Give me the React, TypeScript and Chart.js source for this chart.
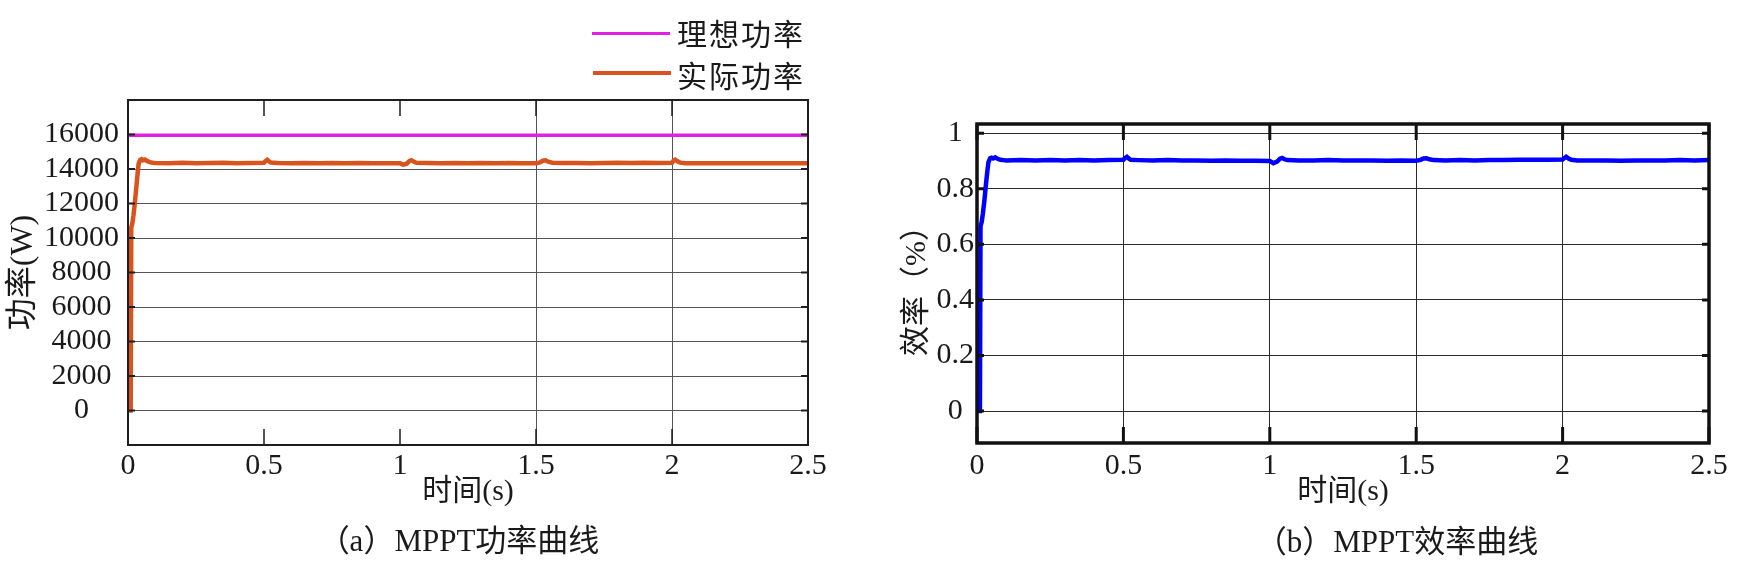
import React, { useEffect, useRef } from "react";
import { Chart, registerables } from "chart.js";

Chart.register(...registerables);

// ---------- data ----------
const TIME_S = [
  0, 0.01, 0.012, 0.016, 0.02, 0.025, 0.031, 0.035, 0.039, 0.045,
  0.05, 0.055, 0.062, 0.07, 0.08, 0.09, 0.1, 0.15, 0.2, 0.25,
  0.3, 0.35, 0.4, 0.45, 0.5, 0.505, 0.512, 0.518, 0.525, 0.55,
  0.6, 0.65, 0.7, 0.75, 0.8, 0.85, 0.9, 0.95, 1.0, 1.012,
  1.025, 1.035, 1.042, 1.05, 1.06, 1.1, 1.15, 1.2, 1.25, 1.3,
  1.35, 1.4, 1.45, 1.5, 1.515, 1.525, 1.535, 1.545, 1.56, 1.6,
  1.65, 1.7, 1.75, 1.8, 1.85, 1.9, 1.95, 2.0, 2.005, 2.012,
  2.02, 2.03, 2.05, 2.1, 2.15, 2.2, 2.25, 2.3, 2.35, 2.4,
  2.45, 2.5,
];

const ACTUAL_POWER_W = [
  0, 0, 10600, 10850, 11300, 12000, 13000, 13700, 14300, 14530,
  14570, 14510, 14550, 14470, 14400, 14360, 14350, 14340, 14360, 14340,
  14350, 14360, 14340, 14350, 14360, 14450, 14530, 14450, 14370, 14350,
  14340, 14350, 14340, 14350, 14340, 14350, 14330, 14340, 14330, 14250,
  14310, 14470, 14510, 14430, 14360, 14350, 14340, 14350, 14340, 14350,
  14340, 14350, 14340, 14340, 14380, 14480, 14500, 14420, 14360, 14350,
  14350, 14340, 14350, 14360, 14350, 14360, 14350, 14360, 14470, 14540,
  14450, 14370, 14340, 14340, 14330, 14340, 14330, 14340, 14330, 14340,
  14330, 14340,
];

const EFFICIENCY = [
  0, 0, 0.665, 0.68, 0.71, 0.755, 0.82, 0.86, 0.895, 0.91,
  0.912, 0.909, 0.913, 0.908, 0.904, 0.903, 0.902, 0.903, 0.902, 0.903,
  0.902, 0.903, 0.902, 0.903, 0.904, 0.91, 0.915, 0.909, 0.904, 0.903,
  0.902, 0.903, 0.902, 0.902, 0.901, 0.902, 0.901, 0.901, 0.9, 0.892,
  0.898, 0.908, 0.911, 0.906, 0.903, 0.902, 0.902, 0.903, 0.902, 0.902,
  0.902, 0.901, 0.902, 0.901, 0.904, 0.909, 0.91, 0.906, 0.903, 0.902,
  0.903, 0.902, 0.903, 0.903, 0.904, 0.904, 0.904, 0.905, 0.91, 0.915,
  0.909, 0.904, 0.902, 0.902, 0.902, 0.901, 0.902, 0.902, 0.902, 0.903,
  0.902, 0.903,
];

const IDEAL_TIME_S = [0, 2.5];
const IDEAL_POWER_W = [15950, 15950];

const TIME_TICKS = [0, 0.5, 1, 1.5, 2, 2.5];
const POWER_TICKS = [-2000, 0, 2000, 4000, 6000, 8000, 10000, 12000, 14000, 16000, 18000];
const POWER_LABELED = [0, 2000, 4000, 6000, 8000, 10000, 12000, 14000, 16000];
const EFFICIENCY_TICKS = [0, 0.2, 0.4, 0.6, 0.8, 1];

const LEGEND_LABELS = ["理想功率", "实际功率"];
const X_TITLE = "时间(s)";
const POWER_Y_TITLE = "功率(W)";
const EFF_Y_TITLE = "效率（%）";
const CAPTION_A = "（a）MPPT功率曲线";
const CAPTION_B = "（b）MPPT效率曲线";

// ---------- styles ----------
const FONT_FAMILY = "'Liberation Serif', 'Times New Roman', 'Noto Sans CJK SC', serif";
const TEXT_COLOR = "#1a1a1a";
const IDEAL_COLOR = "#E31FE3";
const ACTUAL_COLOR = "#D9541C";
const EFF_COLOR = "#0000FF";

const framePlugin = {
  id: "frame",
  afterDatasetsDraw(chart: any, _args: any, opts: any) {
    const { ctx, chartArea: a, scales } = chart;
    const xs = scales.x;
    const ys = scales.y;
    ctx.save();
    ctx.strokeStyle = opts.color;
    ctx.lineCap = "butt";
    ctx.lineWidth = opts.xTickWidth;
    ctx.beginPath();
    for (const t of xs.ticks) {
      const px = xs.getPixelForValue(t.value);
      ctx.moveTo(px, a.top);
      ctx.lineTo(px, a.top + opts.xTickLen);
      ctx.moveTo(px, a.bottom);
      ctx.lineTo(px, a.bottom - opts.xTickLen);
    }
    ctx.stroke();
    ctx.lineWidth = opts.yTickWidth;
    ctx.beginPath();
    for (const t of ys.ticks) {
      const py = ys.getPixelForValue(t.value);
      ctx.moveTo(a.left, py);
      ctx.lineTo(a.left + opts.yTickLen, py);
      ctx.moveTo(a.right, py);
      ctx.lineTo(a.right - opts.yTickLen, py);
    }
    ctx.stroke();
    ctx.lineWidth = opts.width;
    ctx.strokeRect(a.left, a.top, a.right - a.left, a.bottom - a.top);
    ctx.restore();
  },
};

const tickFont = { family: FONT_FAMILY, size: 30, lineHeight: 1.2 };
const titleFont = { family: FONT_FAMILY, size: 30, lineHeight: 1.2 };
const yTitleFontLeft = { family: FONT_FAMILY, size: 32, lineHeight: 1.2 };

function powerConfig(): any {
  return {
    type: "line",
    data: {
      datasets: [
        {
          label: LEGEND_LABELS[0],
          data: IDEAL_TIME_S.map((t, i) => ({ x: t, y: IDEAL_POWER_W[i] })),
          borderColor: IDEAL_COLOR,
          borderWidth: 3.5,
          pointRadius: 0,
          tension: 0,
        },
        {
          label: LEGEND_LABELS[1],
          data: TIME_S.map((t, i) => ({ x: t, y: ACTUAL_POWER_W[i] })),
          borderColor: ACTUAL_COLOR,
          borderWidth: 4.5,
          pointRadius: 0,
          tension: 0,
        },
      ],
    },
    options: {
      responsive: false,
      animation: false,
      devicePixelRatio: 1,
      layout: { padding: { top: 100, right: 52, bottom: 67, left: 0 } },
      plugins: {
        legend: { display: false },
        tooltip: { enabled: false },
        frame: { color: "#1e1e1e", width: 2, xTickLen: 16, xTickWidth: 1.5, yTickLen: 7, yTickWidth: 2 },
      },
      scales: {
        x: {
          type: "linear",
          min: 0,
          max: 2.5,
          afterBuildTicks: (s: any) => {
            s.ticks = TIME_TICKS.map((v) => ({ value: v }));
          },
          afterFit: (s: any) => {
            s.height = 65;
          },
          ticks: { font: tickFont, color: TEXT_COLOR, padding: 3, maxRotation: 0, autoSkip: false, callback: (v: any) => String(v) },
          grid: {
            drawTicks: false,
            lineWidth: 1,
            color: (c: any) => (c.tick && (c.tick.value === 1.5 || c.tick.value === 2) ? "#555555" : "rgba(0,0,0,0)"),
          },
          border: { display: false },
          title: { display: true, text: X_TITLE, font: titleFont, color: TEXT_COLOR, padding: 0 },
        },
        y: {
          type: "linear",
          min: -2000,
          max: 18000,
          afterBuildTicks: (s: any) => {
            s.ticks = POWER_TICKS.map((v) => ({ value: v }));
          },
          afterFit: (s: any) => {
            s.width = 128;
          },
          ticks: {
            font: tickFont,
            color: TEXT_COLOR,
            padding: 9,
            crossAlign: "center",
            autoSkip: false,
            callback: (v: any) => (POWER_LABELED.includes(v) ? String(v) : ""),
          },
          grid: { drawTicks: false, lineWidth: 1, color: "#555555" },
          border: { display: false },
          title: { display: true, text: POWER_Y_TITLE, font: yTitleFontLeft, color: TEXT_COLOR, padding: { top: 4, bottom: 0 } },
        },
      },
    },
    plugins: [framePlugin],
  };
}

function efficiencyConfig(): any {
  return {
    type: "line",
    data: {
      datasets: [
        {
          label: "效率",
          data: TIME_S.map((t, i) => ({ x: t, y: EFFICIENCY[i] })),
          borderColor: EFF_COLOR,
          borderWidth: 4.5,
          pointRadius: 0,
          tension: 0,
        },
      ],
    },
    options: {
      responsive: false,
      animation: false,
      devicePixelRatio: 1,
      layout: { padding: { top: 124, right: 38, bottom: 67, left: 0 } },
      plugins: {
        legend: { display: false },
        tooltip: { enabled: false },
        frame: { color: "#111111", width: 3.5, xTickLen: 16, xTickWidth: 3, yTickLen: 7, yTickWidth: 3 },
      },
      scales: {
        x: {
          type: "linear",
          min: 0,
          max: 2.5,
          afterBuildTicks: (s: any) => {
            s.ticks = TIME_TICKS.map((v) => ({ value: v }));
          },
          afterFit: (s: any) => {
            s.height = 67;
          },
          ticks: { font: tickFont, color: TEXT_COLOR, padding: 5, maxRotation: 0, autoSkip: false, callback: (v: any) => String(v) },
          grid: { drawTicks: false, lineWidth: 1, color: "#2a2a2a" },
          border: { display: false },
          title: { display: true, text: X_TITLE, font: titleFont, color: TEXT_COLOR, padding: 0 },
        },
        y: {
          type: "linear",
          min: -0.115,
          max: 1.033,
          afterBuildTicks: (s: any) => {
            s.ticks = EFFICIENCY_TICKS.map((v) => ({ value: v }));
          },
          afterFit: (s: any) => {
            s.width = 107;
          },
          ticks: {
            font: tickFont,
            color: TEXT_COLOR,
            padding: 3,
            crossAlign: "center",
            autoSkip: false,
            callback: (v: any) => String(v),
          },
          grid: { drawTicks: false, lineWidth: 1, color: "#2a2a2a" },
          border: { display: false },
          title: { display: true, text: EFF_Y_TITLE, font: titleFont, color: TEXT_COLOR, padding: { top: 29, bottom: 0 } },
        },
      },
    },
    plugins: [framePlugin],
  };
}

const textStyle: React.CSSProperties = {
  position: "absolute",
  fontFamily: FONT_FAMILY,
  color: TEXT_COLOR,
  lineHeight: 1,
  whiteSpace: "nowrap",
};

export default function App() {
  const leftRef = useRef<HTMLCanvasElement | null>(null);
  const rightRef = useRef<HTMLCanvasElement | null>(null);

  useEffect(() => {
    const c1 = new Chart(leftRef.current as HTMLCanvasElement, powerConfig());
    const c2 = new Chart(rightRef.current as HTMLCanvasElement, efficiencyConfig());
    return () => {
      c1.destroy();
      c2.destroy();
    };
  }, []);

  return (
    <div style={{ position: "absolute", left: 0, top: 0, width: 1747, height: 577, background: "#ffffff", overflow: "hidden" }}>
      <canvas ref={leftRef} width={860} height={577} style={{ position: "absolute", left: 0, top: 0 }} />
      <canvas ref={rightRef} width={877} height={577} style={{ position: "absolute", left: 870, top: 0 }} />

      {/* legend */}
      <div style={{ position: "absolute", left: 592, top: 32, width: 78, height: 3, background: IDEAL_COLOR }} />
      <div style={{ ...textStyle, left: 677, top: 35, fontSize: 30, letterSpacing: 2, transform: "translateY(-50%)" }}>{LEGEND_LABELS[0]}</div>
      <div style={{ position: "absolute", left: 593, top: 71, width: 78, height: 4, background: ACTUAL_COLOR }} />
      <div style={{ ...textStyle, left: 677, top: 77, fontSize: 30, letterSpacing: 2, transform: "translateY(-50%)" }}>{LEGEND_LABELS[1]}</div>

      {/* captions */}
      <div style={{ ...textStyle, left: 459, top: 540, fontSize: 31, transform: "translate(-50%, -50%)" }}>{CAPTION_A}</div>
      <div style={{ ...textStyle, left: 1397, top: 541, fontSize: 31, transform: "translate(-50%, -50%)" }}>{CAPTION_B}</div>
    </div>
  );
}
